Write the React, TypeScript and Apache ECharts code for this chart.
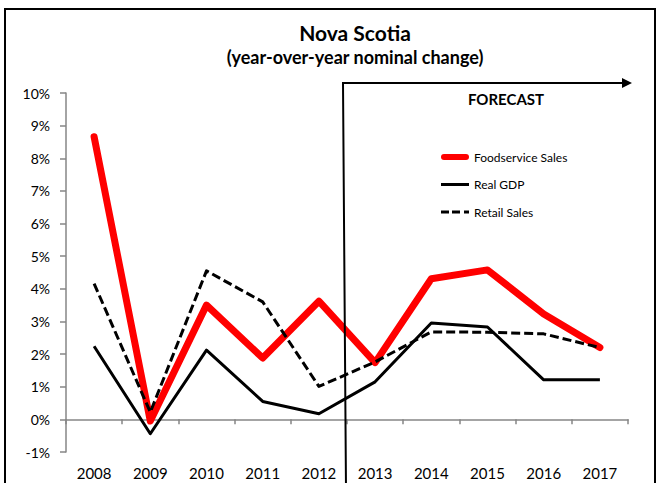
import React, { useEffect, useRef } from "react";
import * as echarts from "echarts";

const years = ["2008", "2009", "2010", "2011", "2012", "2013", "2014", "2015", "2016", "2017"];
const foodserviceSales = [8.66, -0.05, 3.5, 1.88, 3.62, 1.74, 4.31, 4.58, 3.23, 2.2];
const realGDP = [2.24, -0.44, 2.12, 0.55, 0.17, 1.15, 2.95, 2.83, 1.21, 1.21];
const retailSales = [4.16, 0.22, 4.55, 3.6, 1.01, 1.76, 2.68, 2.67, 2.62, 2.2];
const yTicks = { min: -1, max: 10, step: 1 };

const FONT = "Lato";

const ICON_RED = "path://M3,0 H25 A3,3 0 0 1 25,6 H3 A3,3 0 0 1 3,0 Z";
const ICON_SOLID = "path://M0,0 H28 V3 H0 Z";
const ICON_DASH = "path://M0,0 H8 V3 H0 Z M11,0 H19 V3 H11 Z M23,0 H28 V3 H23 Z";

export default function App() {
  const ref = useRef<HTMLDivElement>(null);
  useEffect(() => {
    if (!ref.current) return;
    const chart = echarts.init(ref.current, undefined, { renderer: "svg" });
    chart.setOption({
      animation: false,
      backgroundColor: "#fff",
      textStyle: { fontFamily: FONT },
      title: [
        {
          text: "Nova Scotia",
          left: 350,
          top: 17,
          textAlign: "center",
          textStyle: { fontFamily: FONT, fontSize: 21, fontWeight: "bold", color: "#000" },
        },
        {
          text: "(year-over-year nominal change)",
          left: 350,
          top: 43,
          textAlign: "center",
          textStyle: { fontFamily: FONT, fontSize: 18, fontWeight: "bold", color: "#000" },
        },
      ],
      legend: {
        orient: "vertical",
        left: 441,
        top: 151,
        padding: 0,
        itemWidth: 28,
        itemHeight: 14,
        itemGap: 15.5,
        symbolKeepAspect: true,
        textStyle: { fontFamily: FONT, fontSize: 12, color: "#000" },
        data: [
          { name: "Foodservice Sales", icon: ICON_RED },
          { name: "Real GDP", icon: ICON_SOLID },
          { name: "Retail Sales", icon: ICON_DASH },
        ],
      },
      grid: { left: 66, right: 32, top: 93, bottom: 31, containLabel: false },
      xAxis: [
        {
          type: "category",
          data: years,
          boundaryGap: true,
          position: "bottom",
          axisLine: { show: false, onZero: false },
          axisTick: { show: false },
          axisLabel: { fontFamily: FONT, fontSize: 15, color: "#000", margin: 13 },
        },
        {
          type: "category",
          data: years,
          boundaryGap: true,
          position: "bottom",
          axisLine: { show: true, onZero: true, lineStyle: { color: "#868686", width: 1.5 } },
          axisTick: { show: true, length: 5, lineStyle: { color: "#868686", width: 1.5 } },
          axisLabel: { show: false },
        },
      ],
      yAxis: {
        type: "value",
        min: yTicks.min,
        max: yTicks.max,
        interval: yTicks.step,
        axisLine: { show: true, lineStyle: { color: "#868686", width: 1.5 } },
        axisTick: { show: true, length: 6, lineStyle: { color: "#868686", width: 1.5 } },
        splitLine: { show: false },
        axisLabel: {
          fontFamily: FONT,
          fontSize: 14,
          color: "#000",
          margin: 16,
          formatter: "{value}%",
        },
      },
      series: [
        {
          name: "Foodservice Sales",
          type: "line",
          data: foodserviceSales,
          symbol: "none",
          lineStyle: { color: "#ff0000", width: 7, cap: "round", join: "round" },
          itemStyle: { color: "#ff0000" },
        },
        {
          name: "Real GDP",
          type: "line",
          data: realGDP,
          symbol: "none",
          lineStyle: { color: "#000", width: 3, join: "round" },
          itemStyle: { color: "#000" },
        },
        {
          name: "Retail Sales",
          type: "line",
          data: retailSales,
          symbol: "none",
          lineStyle: { color: "#000", width: 3, type: [9, 4], join: "round" },
          itemStyle: { color: "#000" },
        },
      ],
      graphic: [
        {
          type: "rect",
          shape: { x: 5, y: 9, width: 650, height: 520 },
          style: { fill: "none", stroke: "#000", lineWidth: 2 },
          silent: true,
          z: 100,
        },
        {
          type: "polyline",
          shape: { points: [[346, 490], [343, 83], [624, 83]] },
          style: { fill: "none", stroke: "#000", lineWidth: 2 },
          silent: true,
          z: 100,
        },
        {
          type: "polygon",
          shape: { points: [[622, 78], [632, 83], [622, 88]] },
          style: { fill: "#000" },
          silent: true,
          z: 100,
        },
        {
          type: "text",
          x: 506,
          y: 99,
          style: {
            text: "FORECAST",
            fontFamily: FONT,
            fontSize: 15,
            fontWeight: "bold",
            fill: "#000",
            align: "center",
            verticalAlign: "middle",
          },
          silent: true,
          z: 100,
        },
      ],
    });
    return () => chart.dispose();
  }, []);
  return (
    <div
      ref={ref}
      style={{ position: "absolute", left: 0, top: 0, width: 660, height: 483 }}
    />
  );
}
